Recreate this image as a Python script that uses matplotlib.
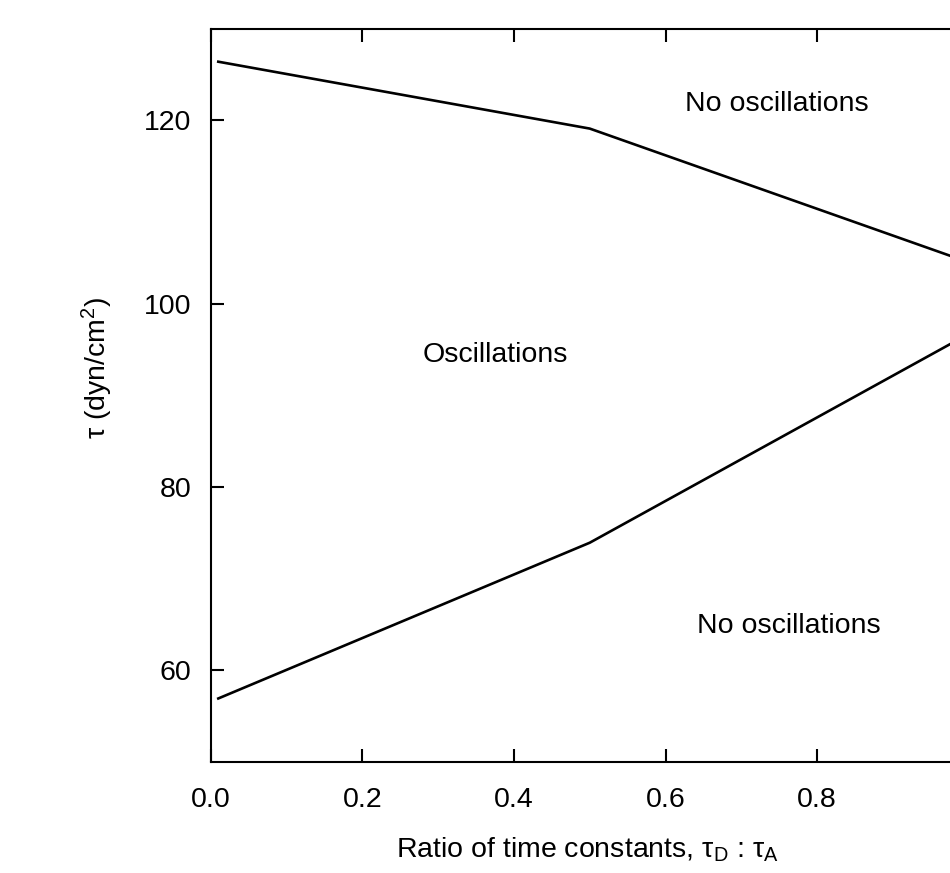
import numpy as np
import matplotlib
matplotlib.use('Agg')
import matplotlib.pyplot as plt

plt.rcParams['font.family'] = ['Liberation Sans', 'DejaVu Sans']
plt.rcParams['mathtext.fontset'] = 'custom'
plt.rcParams['mathtext.rm'] = 'Liberation Sans'
plt.rcParams['mathtext.it'] = 'Liberation Sans'
plt.rcParams['mathtext.default'] = 'regular'

# stability boundaries vs. ratio of time constants
ratio = [0.01, 0.5, 1.0]
upper_bound = [126.4, 119.1, 104.5]
lower_bound = [56.9, 73.9, 96.7]

xticks = [0.0, 0.2, 0.4, 0.6, 0.8, 1.0]
yticks = [60, 80, 100, 120]

fs = 20.5

fig = plt.figure(figsize=(9.5, 8.73), dpi=100)
ax = fig.add_axes([0.2218, 0.1275, 0.798, 0.8396])

ax.plot(ratio, upper_bound, color='black', linewidth=1.9)
ax.plot(ratio, lower_bound, color='black', linewidth=1.9)

ax.set_xlim(0.0, 1.0)
ax.set_ylim(50, 130)
ax.set_xticks(xticks)
ax.set_xticklabels(['%.1f' % t for t in xticks])
ax.set_yticks(yticks)

for s in ax.spines.values():
    s.set_linewidth(1.5)
ax.tick_params(direction='in', length=9.5, width=1.5, top=True, right=True,
               labelsize=fs)
ax.tick_params(axis='x', pad=18)
ax.tick_params(axis='y', pad=14)

ax.text(0.747, 121.8, 'No oscillations', fontsize=fs, ha='center', va='center')
ax.text(0.375, 94.4, 'Oscillations', fontsize=fs, ha='center', va='center')
ax.text(0.763, 64.8, 'No oscillations', fontsize=fs, ha='center', va='center')

fig.text(587 / 950, 1 - 858 / 873, r'Ratio of time constants, $\tau_D$ : $\tau_A$',
         fontsize=fs, ha='center', va='baseline')
fig.text(97 / 950, 1 - 368 / 873, r'$\tau$ (dyn/cm$^2$)', fontsize=fs,
         ha='center', va='center', rotation=90)

fig.savefig('out.png', dpi=100)
